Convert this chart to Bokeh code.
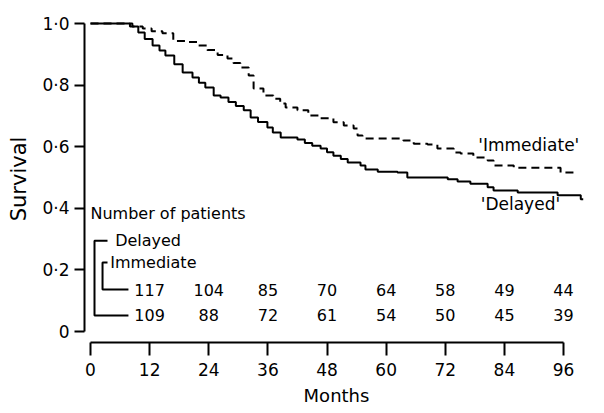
from bokeh.plotting import figure
from bokeh.models import FixedTicker, Range1d
from bokeh.core.properties import value
from bokeh.embed import file_html
from bokeh.resources import INLINE

# ---- data ----
delayed_t = [0, 8, 9.7, 11, 12.6, 14, 15.2, 17, 18.7, 20.7, 22, 23.3, 25, 26.4, 28, 29.5,
             31.1, 32.5, 34, 35.9, 37, 38.6, 42, 43.5, 45, 46.7, 48, 49.3, 50.8, 52.2, 54.8,
             55.8, 58.3, 62.3, 64.3, 72.5, 74.5, 77.1, 80.6, 81.8, 86.7, 94.8, 99.5, 100]
delayed_s = [1.0, 0.99, 0.971, 0.95, 0.929, 0.912, 0.896, 0.868, 0.841, 0.825, 0.808, 0.792,
             0.766, 0.76, 0.745, 0.732, 0.718, 0.695, 0.68, 0.662, 0.646, 0.63, 0.623, 0.612,
             0.603, 0.594, 0.582, 0.571, 0.56, 0.549, 0.539, 0.526, 0.519, 0.516, 0.5, 0.494,
             0.487, 0.48, 0.468, 0.458, 0.451, 0.442, 0.429, 0.429]

immediate_t = [0, 8.5, 10.6, 12.4, 14.6, 16.8, 19.5, 21.7, 23.7, 25.8, 27.8, 29, 30.4, 32.1,
               33.1, 35.1, 37.1, 38.5, 39.6, 42, 44.2, 46.7, 49.3, 51.4, 53.4, 54.2, 55.2,
               63.5, 65.6, 68.4, 70.4, 73.7, 75.1, 77.7, 80.6, 81.8, 85.9, 95.4, 99]
immediate_s = [1.0, 0.99, 0.984, 0.975, 0.968, 0.943, 0.94, 0.929, 0.914, 0.898, 0.886, 0.872,
               0.857, 0.831, 0.789, 0.766, 0.756, 0.74, 0.727, 0.718, 0.701, 0.692, 0.679,
               0.669, 0.659, 0.636, 0.627, 0.62, 0.61, 0.607, 0.594, 0.581, 0.578, 0.565,
               0.555, 0.539, 0.532, 0.516, 0.516]

risk_months = [12, 24, 36, 48, 60, 72, 84, 96]
risk_immediate = [117, 104, 85, 70, 64, 58, 49, 44]
risk_delayed = [109, 88, 72, 61, 54, 50, 45, 39]

x_ticks = [0, 12, 24, 36, 48, 60, 72, 84, 96]
y_ticks = [0, 0.2, 0.4, 0.6, 0.8, 1.0]
y_tick_labels = ["0", "0·2", "0·4", "0·6", "0·8", "1·0"]

FONT = "DejaVu Sans"

p = figure(width=600, height=410, output_backend="svg", toolbar_location=None,
           x_range=Range1d(-1.22, 101.07), y_range=Range1d(-0.0357, 1.026),
           min_border_left=84, min_border_bottom=68, min_border_top=15, min_border_right=12)
p.outline_line_color = None
p.grid.visible = False
p.background_fill_color = "white"

# axes
xa = p.xaxis[0]
xa.ticker = FixedTicker(ticks=x_ticks)
xa.bounds = (0, 96)
xa.axis_line_width = 2
xa.major_tick_line_width = 2
xa.major_tick_out = 13
xa.major_tick_in = 0
xa.minor_tick_line_color = None
xa.major_label_standoff = 7
xa.major_label_text_font = FONT
xa.major_label_text_font_size = "17px"
xa.major_label_text_color = "black"
xa.axis_label = "Months"
xa.axis_label_text_font = FONT
xa.axis_label_text_font_style = "normal"
xa.axis_label_text_font_size = "18px"
xa.axis_label_text_color = "black"
xa.axis_label_standoff = 6

ya = p.yaxis[0]
ya.ticker = FixedTicker(ticks=y_ticks)
ya.major_label_overrides = {t: l for t, l in zip(y_ticks, y_tick_labels)}
ya.bounds = (0, 1)
ya.axis_line_width = 2
ya.major_tick_line_width = 2
ya.major_tick_out = 10
ya.major_tick_in = 0
ya.minor_tick_line_color = None
ya.major_label_standoff = 5
ya.major_label_text_font = FONT
ya.major_label_text_font_size = "17px"
ya.major_label_text_color = "black"
ya.axis_label = "Survival"
ya.axis_label_text_font = FONT
ya.axis_label_text_font_style = "normal"
ya.axis_label_text_font_size = "21px"
ya.axis_label_text_color = "black"
ya.axis_label_standoff = 8

# curves
p.step(delayed_t, delayed_s, mode="after", line_color="black", line_width=2)
p.step(immediate_t, immediate_s, mode="after", line_color="black", line_width=2,
       line_dash="8 5")

# curve labels
p.text(x=[78.7], y=[0.604], text=["'Immediate'"], text_font=value(FONT),
       text_font_size="17px", text_baseline="middle", text_align="left", text_color="black")
p.text(x=[79.2], y=[0.413], text=["'Delayed'"], text_font=value(FONT),
       text_font_size="17px", text_baseline="middle", text_align="left", text_color="black")

# numbers at risk block
p.text(x=[0], y=[0.383], text=["Number of patients"], text_font=value(FONT),
       text_font_size="16px", text_baseline="middle", text_align="left")
p.text(x=[5.0], y=[0.295], text=["Delayed"], text_font=value(FONT),
       text_font_size="16px", text_baseline="middle", text_align="left")
p.text(x=[4.0], y=[0.224], text=["Immediate"], text_font=value(FONT),
       text_font_size="16px", text_baseline="middle", text_align="left")

row_imm_y = 0.136
row_del_y = 0.052
p.text(x=risk_months, y=[row_imm_y] * len(risk_months), text=[str(v) for v in risk_immediate],
       text_font=value(FONT), text_font_size="16px", text_baseline="middle", text_align="center")
p.text(x=risk_months, y=[row_del_y] * len(risk_months), text=[str(v) for v in risk_delayed],
       text_font=value(FONT), text_font_size="16px", text_baseline="middle", text_align="center")

# brackets
x_outer, x_inner, x_short, x_long = 0.81, 2.44, 3.45, 7.7
p.line([x_short, x_outer, x_outer, x_long], [0.295, 0.295, row_del_y, row_del_y],
       line_color="black", line_width=2)
p.line([x_short, x_inner, x_inner, x_long], [0.224, 0.224, row_imm_y, row_imm_y],
       line_color="black", line_width=2)

open("out.html", "w").write(file_html(p, INLINE))
